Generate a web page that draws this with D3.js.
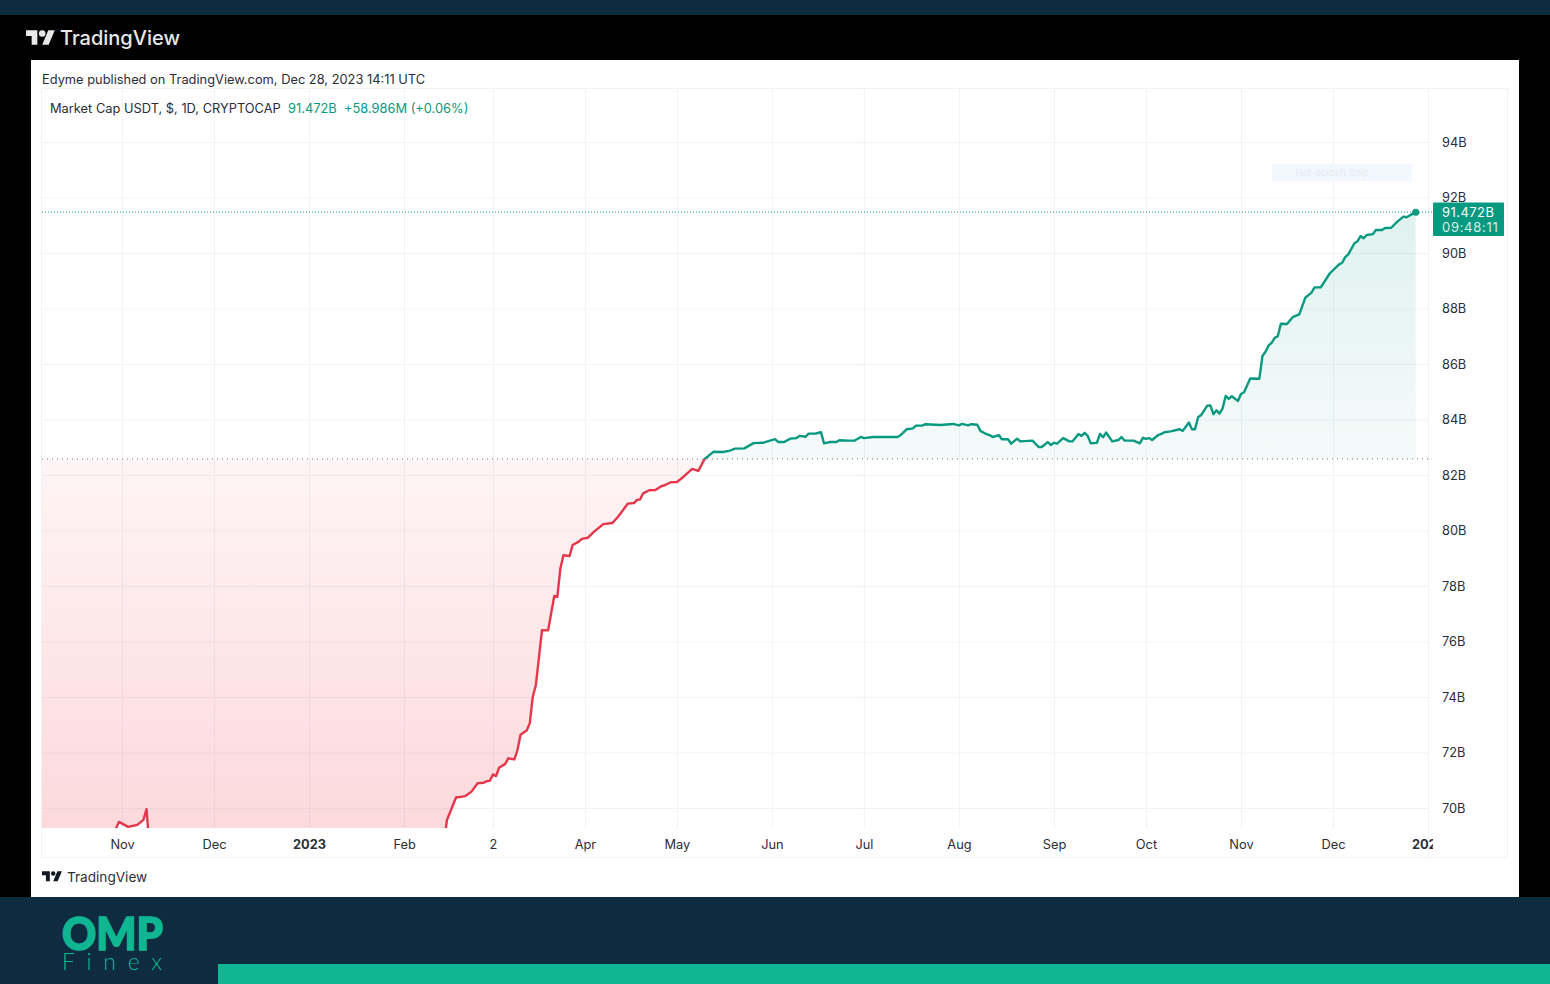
<!DOCTYPE html>
<html>
<head>
<meta charset="utf-8">
<title>Market Cap USDT</title>
<script src="https://cdn.jsdelivr.net/npm/d3@7"></script>
<style>
  html, body { margin: 0; padding: 0; background: #000; overflow: hidden; }
  svg { display: block; font-family: Inter, "Noto Sans", sans-serif; }
  .grid line { stroke: #f0f3f5; stroke-width: 1; }
  .grid path { display: none; }
  .axis path, .axis line { display: none; }
  .axis text { font-family: Inter, "Noto Sans", sans-serif; font-size: 12.8px; fill: #2a2e39; }
</style>
</head>
<body>
<div id="chart"></div>
<script>
// days counted from 1 Nov 2022, values in billions of dollars
var dayOffsets = [-27, -10, -5, -2, -1, 2, 5, 7, 8, 9, 20, 40, 60, 75, 90, 102, 105, 106,
  109, 110, 112, 114, 116, 118, 119, 120, 121, 122, 123, 125, 126, 128, 129, 130, 132, 133, 134, 135,
  137, 139, 141, 142, 143, 144, 146, 147, 149, 150, 152, 154, 157, 160, 162, 165, 167, 168, 169, 170,
  172, 174, 176, 177, 179, 181, 183, 186, 188, 190, 193, 196, 198, 200, 203, 206, 209, 213, 214, 216,
  218, 220, 221, 223, 224, 226, 228, 229, 231, 233, 234, 237, 239, 241, 242, 245, 249, 253, 254, 256,
  258, 259, 261, 262, 267, 271, 273, 274, 276, 277, 279, 280, 282, 283, 284, 286, 287, 289, 290, 292,
  293, 297, 299, 300, 302, 303, 304, 305, 307, 309, 310, 312, 313, 314, 315, 316, 318, 319, 320, 321,
  323, 325, 326, 327, 330, 332, 333, 334, 335, 336, 338, 339, 340, 342, 345, 346, 348, 349, 350, 351,
  352, 354, 355, 356, 357, 358, 359, 360, 361, 362, 364, 365, 366, 368, 371, 372, 373, 374, 375, 376,
  377, 378, 380, 382, 384, 386, 388, 389, 391, 394, 397, 398, 399, 400, 402, 403, 404, 405, 406, 408,
  409, 411, 412, 414, 416, 418, 419, 422];

var marketCapB = [68.4, 68.9, 69.0, 69.25, 69.5, 69.32, 69.39, 69.57, 69.96, 68.5, 66.5, 66.2, 66.3, 67.0, 68.0, 68.5, 68.7, 69.57,
  70.39, 70.39, 70.43, 70.59, 70.89, 70.91, 70.97, 70.98, 71.21, 71.15, 71.45, 71.59, 71.79, 71.75, 72.09, 72.64, 72.79, 73.05, 74.01, 74.43,
  76.41, 76.4, 77.64, 77.61, 78.64, 79.11, 79.08, 79.48, 79.6, 79.7, 79.74, 79.96, 80.23, 80.27, 80.52, 80.97, 80.99, 81.1, 81.12, 81.34,
  81.45, 81.46, 81.6, 81.63, 81.74, 81.75, 81.92, 82.22, 82.15, 82.57, 82.84, 82.83, 82.87, 82.95, 82.96, 83.15, 83.16, 83.29, 83.19, 83.19,
  83.31, 83.33, 83.41, 83.38, 83.49, 83.49, 83.54, 83.14, 83.19, 83.19, 83.25, 83.24, 83.24, 83.37, 83.33, 83.37, 83.37, 83.37, 83.44, 83.65,
  83.68, 83.78, 83.78, 83.83, 83.8, 83.84, 83.79, 83.84, 83.79, 83.83, 83.81, 83.59, 83.47, 83.44, 83.37, 83.44, 83.29, 83.29, 83.13, 83.31,
  83.21, 83.24, 83.01, 83.01, 83.19, 83.08, 83.16, 83.13, 83.33, 83.21, 83.21, 83.48, 83.41, 83.52, 83.41, 83.14, 83.16, 83.48, 83.36, 83.53,
  83.21, 83.26, 83.37, 83.24, 83.24, 83.14, 83.34, 83.3, 83.33, 83.26, 83.44, 83.48, 83.54, 83.57, 83.65, 83.59, 83.89, 83.65, 83.65, 84.08,
  84.16, 84.5, 84.51, 84.19, 84.33, 84.21, 84.4, 84.85, 84.74, 84.84, 84.67, 84.92, 84.98, 85.48, 85.47, 86.29, 86.44, 86.67, 86.76, 86.94,
  87.0, 87.45, 87.44, 87.7, 87.79, 88.39, 88.57, 88.76, 88.76, 89.27, 89.59, 89.65, 89.85, 89.95, 90.35, 90.42, 90.61, 90.53, 90.65, 90.68,
  90.83, 90.83, 90.9, 90.91, 91.13, 91.31, 91.29, 91.472];

var baseValue = 82.58;
var lastValue = 91.472;
var priceTicks = [70, 72, 74, 76, 78, 80, 82, 84, 86, 88, 90, 92, 94];
var monthDates = ["2022-11-01", "2022-12-01", "2023-01-01", "2023-02-01", "2023-03-02", "2023-04-01", "2023-05-01",
  "2023-06-01", "2023-07-01", "2023-08-01", "2023-09-01", "2023-10-01", "2023-11-01", "2023-12-01", "2024-01-01"];
var monthLabels = ["Nov", "Dec", "2023", "Feb", "2", "Apr", "May", "Jun", "Jul", "Aug", "Sep", "Oct", "Nov", "Dec", "2024"];
var boldLabels = ["2023", "2024"];

var startDate = new Date(Date.UTC(2022, 10, 1));
var tickDates = monthDates.map(function (d) { return new Date(d + "T00:00:00Z"); });
var points = dayOffsets.map(function (d, i) {
  return { date: d3.utcDay.offset(startDate, d), value: marketCapB[i] };
});

var green = "#089981";
var red = "#e5364c";
var navy = "#0f2b40";
var teal = "#10b592";
var plotLeft = 42, plotRight = 1428, plotTop = 89, plotBottom = 828;

var x = d3.scaleUtc().domain([startDate, tickDates[tickDates.length - 1]]).range([122, plotRight]);
var y = d3.scaleLinear().domain([70, 94]).range([808, 142]);

var svg = d3.select("#chart").append("svg").attr("width", 1550).attr("height", 984);
var defs = svg.append("defs");

function addClip(id, x0, y0, w, h) {
  defs.append("clipPath").attr("id", id).append("rect")
    .attr("x", x0).attr("y", y0).attr("width", w).attr("height", h);
}
addClip("clipAbove", plotLeft, plotTop, plotRight - plotLeft, y(baseValue) - plotTop);
addClip("clipBelow", plotLeft, y(baseValue), plotRight - plotLeft, plotBottom - y(baseValue));
addClip("clipTime", plotLeft, plotBottom, 1433 - plotLeft, 30);

function addGradient(id, color, y0, y1, o0, o1) {
  var g = defs.append("linearGradient").attr("id", id)
    .attr("gradientUnits", "userSpaceOnUse")
    .attr("x1", 0).attr("x2", 0).attr("y1", y0).attr("y2", y1);
  g.append("stop").attr("offset", 0).attr("stop-color", color).attr("stop-opacity", o0);
  g.append("stop").attr("offset", 1).attr("stop-color", color).attr("stop-opacity", o1);
}
addGradient("fillGreen", green, y(lastValue), y(baseValue), 0.13, 0.04);
addGradient("fillRed", "#f23645", y(baseValue), plotBottom, 0.05, 0.19);

// page blocks
svg.append("rect").attr("width", 1550).attr("height", 984).attr("fill", "#000");
svg.append("rect").attr("width", 1550).attr("height", 15).attr("fill", navy);
svg.append("rect").attr("x", 31).attr("y", 60).attr("width", 1488).attr("height", 837).attr("fill", "#fff");
svg.append("rect").attr("y", 897).attr("width", 1550).attr("height", 87).attr("fill", navy);
svg.append("rect").attr("x", 218).attr("y", 964).attr("width", 1332).attr("height", 20).attr("fill", teal);

// tradingview logo
function drawLogo(px, py, scale, color) {
  var logo = svg.append("g").attr("transform", "translate(" + px + "," + py + ") scale(" + scale + ")").attr("fill", color);
  logo.append("path").attr("d", "M14 22H7V11H0V4h14v18zM28 22h-8l7.5-18h8L28 22z");
  logo.append("circle").attr("cx", 20).attr("cy", 8).attr("r", 4);
}
drawLogo(26, 27, 0.81, "#e8e8e8");
svg.append("text").attr("x", 60).attr("y", 45).attr("fill", "#e8e8e8")
  .attr("font-size", 20).attr("font-weight", 500).text("TradingView");

svg.append("text").attr("x", 42).attr("y", 83.5).attr("fill", "#2a2e39").attr("font-size", 12.85)
  .text("Edyme published on TradingView.com, Dec 28, 2023 14:11 UTC");

// chart frame
svg.append("rect").attr("x", 41.5).attr("y", 88.5).attr("width", 1466).attr("height", 769)
  .attr("fill", "none").attr("stroke", "#f0f3f5");
svg.append("line").attr("x1", plotRight + 0.5).attr("x2", plotRight + 0.5).attr("y1", 89).attr("y2", 858).attr("stroke", "#f0f3f5");

// grid
svg.append("g").attr("class", "grid").attr("transform", "translate(" + plotLeft + ",0)")
  .call(d3.axisRight(y).tickValues(priceTicks).tickSize(plotRight - plotLeft).tickFormat(""));
svg.append("g").attr("class", "grid").attr("transform", "translate(0," + plotTop + ")")
  .call(d3.axisBottom(x).tickValues(tickDates).tickSize(plotBottom - plotTop).tickFormat(""));

// watermark box
svg.append("rect").attr("x", 1272).attr("y", 164).attr("width", 140).attr("height", 17).attr("fill", "#f2f8fd");
svg.append("text").attr("x", 1332).attr("y", 176).attr("text-anchor", "middle").attr("font-size", 9.5)
  .attr("fill", "#e3ebf2").text("Full-screen Snip");

// fills and line, split at the base value
var area = d3.area()
  .x(function (d) { return x(d.date); })
  .y0(y(baseValue))
  .y1(function (d) { return y(d.value); });
var line = d3.line()
  .x(function (d) { return x(d.date); })
  .y(function (d) { return y(d.value); });

svg.append("path").datum(points).attr("d", area).attr("fill", "url(#fillGreen)").attr("clip-path", "url(#clipAbove)");
svg.append("path").datum(points).attr("d", area).attr("fill", "url(#fillRed)").attr("clip-path", "url(#clipBelow)");

// dotted base and last value lines
svg.append("line").attr("x1", plotLeft).attr("x2", plotRight).attr("y1", y(baseValue)).attr("y2", y(baseValue))
  .attr("stroke", "#8a8e99").attr("stroke-width", 1.2).attr("stroke-dasharray", "1 4");
svg.append("line").attr("x1", plotLeft).attr("x2", 1433).attr("y1", y(lastValue)).attr("y2", y(lastValue))
  .attr("stroke", green).attr("stroke-width", 1).attr("stroke-dasharray", "1 2");

svg.append("path").datum(points).attr("d", line).attr("fill", "none").attr("stroke", green)
  .attr("stroke-width", 2.4).attr("stroke-linejoin", "round").attr("clip-path", "url(#clipAbove)");
svg.append("path").datum(points).attr("d", line).attr("fill", "none").attr("stroke", red)
  .attr("stroke-width", 2.4).attr("stroke-linejoin", "round").attr("clip-path", "url(#clipBelow)");

var lastPoint = points[points.length - 1];
svg.append("circle").attr("cx", x(lastPoint.date)).attr("cy", y(lastPoint.value)).attr("r", 3.5).attr("fill", green);

// legend
var legend = svg.append("text").attr("x", 50).attr("y", 112.5).attr("font-size", 12.85);
legend.append("tspan").attr("fill", "#2a2e39").text("Market Cap USDT, $, 1D, CRYPTOCAP");
legend.append("tspan").attr("fill", green).attr("x", 288).text("91.472B");
legend.append("tspan").attr("fill", green).attr("x", 344).text("+58.986M (+0.06%)");

// price axis
var priceAxis = svg.append("g").attr("class", "axis").attr("transform", "translate(1442,0)")
  .call(d3.axisRight(y).tickValues(priceTicks).tickSize(0).tickPadding(0).tickFormat(function (d) { return d + "B"; }));

// time axis
var timeAxis = svg.append("g").attr("class", "axis").attr("clip-path", "url(#clipTime)")
  .append("g").attr("transform", "translate(0,840)")
  .call(d3.axisBottom(x).tickValues(tickDates).tickSize(0).tickPadding(0)
    .tickFormat(function (d, i) { return monthLabels[i]; }));
timeAxis.selectAll("text")
  .style("font-weight", function (d, i) { return boldLabels.indexOf(monthLabels[i]) >= 0 ? 700 : 400; });

// last price tag
svg.append("rect").attr("x", 1433).attr("y", 202.5).attr("width", 71).attr("height", 33.5).attr("rx", 1).attr("fill", green);
svg.append("text").attr("x", 1442).attr("y", 216.5).attr("fill", "#fff").attr("font-size", 13)
  .attr("letter-spacing", 0.45).text("91.472B");
svg.append("text").attr("x", 1442).attr("y", 231.5).attr("fill", "#d5efe9").attr("font-size", 13)
  .attr("letter-spacing", 0.7).text("09:48:11");

// footer logo
drawLogo(42, 869, 0.56, "#131722");
svg.append("text").attr("x", 67).attr("y", 881.5).attr("fill", "#2a2e39").attr("font-size", 13.6).text("TradingView");

// omp logo
svg.append("text").attr("x", 62).attr("y", 949.5).attr("fill", teal).attr("stroke", teal).attr("stroke-width", 1.6)
  .attr("font-family", "Lato").attr("font-weight", 900).attr("font-size", 45)
  .attr("textLength", 101).attr("lengthAdjust", "spacingAndGlyphs").text("OMP");
svg.append("text").attr("x", 62).attr("y", 970).attr("fill", teal).attr("font-family", "Lato")
  .attr("font-weight", 300).attr("font-size", 23)
  .attr("textLength", 100).attr("lengthAdjust", "spacing").text("Finex");
</script>
</body>
</html>
